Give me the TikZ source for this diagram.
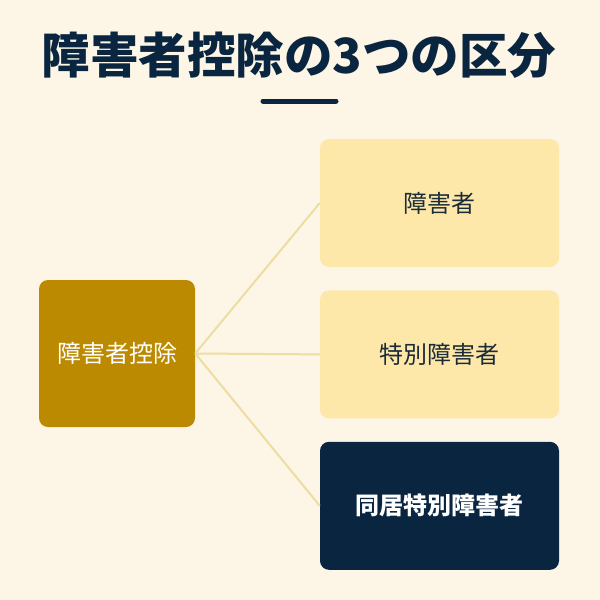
\documentclass[tikz,border=0pt]{standalone}
\usepackage{fontspec}
\setmainfont{Noto Sans CJK JP}
\usetikzlibrary{positioning}
\definecolor{bgcream}{HTML}{FDF6E6}
\definecolor{navy}{HTML}{09253F}
\definecolor{gold}{HTML}{BC8A00}
\definecolor{paleyellow}{HTML}{FDE8A9}
\definecolor{linegold}{HTML}{EDDDA2}
\definecolor{inkdark}{HTML}{1B2B38}
\tikzset{
	box/.style={rectangle, rounded corners=9pt, inner sep=0pt, minimum width=239pt, minimum height=128pt},
	branch/.style={draw=linegold, line width=2pt}
}

\begin{document}
\begin{tikzpicture}[x=1pt, y=-1pt]
			%%%%% START %%%%%
			
			\fill[bgcream] (0, 0) rectangle (600, 600);
			\useasboundingbox (0, 0) rectangle (600, 600);
			
			\node (title) at (299, 55) {\fontsize{48.5}{52}\selectfont\bfseries\color{navy}障害者控除の3つの区分};
			\draw[navy, line width=5pt, line cap=round] (263, 101) -- (336, 101);
			
			\node[box, fill=gold, minimum width=156pt, minimum height=147pt] (deduction) at (117, 353.5) {\fontsize{24}{27}\selectfont\color{white}障害者控除};
			
			\node[box, fill=paleyellow] (disabled) at (439.5, 203) {\fontsize{24}{27}\selectfont\color{inkdark}障害者};
			\node[box, fill=paleyellow, below=23pt of disabled] (special) {\fontsize{24}{27}\selectfont\color{inkdark}特別障害者};
			\node[box, fill=navy, below=23pt of special] (cohabit) {\fontsize{24}{27}\selectfont\bfseries\color{white}同居特別障害者};
			
			\draw[branch] (deduction.east) -- (disabled.west);
			\draw[branch] (deduction.east) -- (special.west);
			\draw[branch] (deduction.east) -- (cohabit.west);
			
			%%%%% END %%%%%
\end{tikzpicture}
\end{document}
